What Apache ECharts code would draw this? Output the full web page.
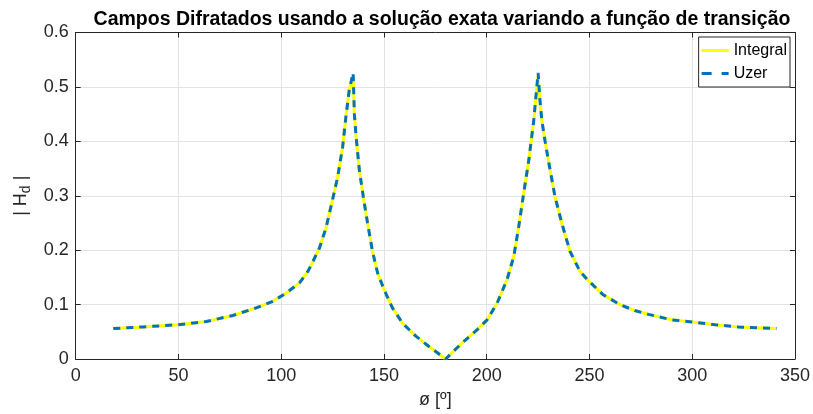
<!DOCTYPE html>
<html>
<head>
<meta charset="utf-8">
<script src="https://cdn.jsdelivr.net/npm/echarts@6/dist/echarts.min.js"></script>
<style>
html,body{margin:0;padding:0;background:#fff;}
#chart{width:813px;height:414px;}
</style>
</head>
<body>
<div id="chart"></div>
<script>
var titleText = 'Campos Difratados usando a solução exata variando a função de transição';
var xTicks = [0, 50, 100, 150, 200, 250, 300, 350];
var yTicks = [0, 0.1, 0.2, 0.3, 0.4, 0.5, 0.6];
var phi = [18.3, 32.8, 49.8, 63.6, 76.5, 87.8, 95.9, 102.4, 108.9, 113.0, 115.3, 118.6, 121.8, 125.0, 127.5, 129.9, 131.5, 133.1, 135.0, 135.6, 136.4, 138.0, 139.9, 142.0, 144.4, 146.9, 150.0, 154.1, 159.0, 165.5, 171.9, 180.0, 187.3, 195.4, 200.2, 205.1, 209.9, 213.2, 215.6, 218.0, 220.5, 222.9, 225.0, 225.8, 226.8, 228.4, 230.8, 233.2, 236.5, 240.5, 245.4, 249.7, 256.7, 264.8, 272.0, 278.7, 290.0, 300.1, 311.1, 322.4, 341.0];
var hdIntegral = [0.056, 0.059, 0.063, 0.069, 0.080, 0.094, 0.106, 0.121, 0.140, 0.161, 0.178, 0.204, 0.241, 0.293, 0.335, 0.390, 0.446, 0.494, 0.520, 0.450, 0.410, 0.348, 0.299, 0.250, 0.198, 0.158, 0.128, 0.094, 0.066, 0.042, 0.023, 0.000, 0.027, 0.054, 0.072, 0.103, 0.146, 0.189, 0.244, 0.305, 0.366, 0.439, 0.520, 0.480, 0.439, 0.400, 0.348, 0.299, 0.250, 0.198, 0.161, 0.143, 0.118, 0.100, 0.089, 0.082, 0.072, 0.068, 0.063, 0.059, 0.056];
var hdUzer = [0.056, 0.059, 0.063, 0.069, 0.080, 0.094, 0.106, 0.121, 0.140, 0.161, 0.178, 0.204, 0.241, 0.293, 0.335, 0.390, 0.446, 0.494, 0.526, 0.450, 0.410, 0.348, 0.299, 0.250, 0.198, 0.158, 0.128, 0.094, 0.066, 0.042, 0.023, 0.000, 0.027, 0.054, 0.072, 0.103, 0.146, 0.189, 0.244, 0.305, 0.366, 0.439, 0.526, 0.480, 0.439, 0.400, 0.348, 0.299, 0.250, 0.198, 0.161, 0.143, 0.118, 0.100, 0.089, 0.082, 0.072, 0.068, 0.063, 0.059, 0.056];

function pairs(xs, ys){ var out=[]; for(var i=0;i<xs.length;i++){ out.push([xs[i], ys[i]]); } return out; }

var FONT = '"Liberation Sans", Arial, Helvetica, sans-serif';
var AX = '#262626';
var GRID = '#e3e3e3';
var YELLOW = '#FFFF00';
var BLUE = '#0072BD';

var chart = echarts.init(document.getElementById('chart'), null, {renderer:'canvas'});
var baseX = {
  type:'value', min:xTicks[0], max:xTicks[xTicks.length-1], interval:50,
  axisLine:{show:true, onZero:false, lineStyle:{color:AX, width:1}},
  axisTick:{show:true, inside:true, length:5, lineStyle:{color:AX}},
  splitLine:{show:false}
};
var baseY = {
  type:'value', min:yTicks[0], max:yTicks[yTicks.length-1], interval:0.1,
  axisLine:{show:true, onZero:false, lineStyle:{color:AX, width:1}},
  axisTick:{show:true, inside:true, length:5, lineStyle:{color:AX}},
  splitLine:{show:false}
};
chart.setOption({
  animation:false,
  backgroundColor:'#ffffff',
  title:{
    text:titleText, left:437, top:5, textAlign:'center',
    textStyle:{fontFamily:FONT, fontSize:19.5, fontWeight:'bold', color:'#000'}
  },
  legend:{
    orient:'vertical', right:23, top:37,
    backgroundColor:'#fff', borderColor:AX, borderWidth:1, borderRadius:0,
    padding:[4,3,4,3], itemGap:4, itemWidth:27, itemHeight:3,
    symbolKeepAspect:false,
    textStyle:{fontFamily:FONT, fontSize:16, color:'#000', lineHeight:19},
    data:[
      {name:'Integral', icon:'path://M0,0h27v3h-27z'},
      {name:'Uzer', icon:'path://M0,0h10v3h-10z M20,0h7v3h-7z'}
    ]
  },
  grid:{left:75.7, right:16.3, top:32.5, bottom:54.5, containLabel:false},
  xAxis:[
    Object.assign({}, baseX, {
      position:'bottom',
      name:'ø [º]', nameLocation:'middle', nameGap:32,
      nameTextStyle:{fontFamily:FONT, fontSize:18, color:AX},
      axisLabel:{show:true, margin:8, fontFamily:FONT, fontSize:18, color:AX},
      splitLine:{show:true, lineStyle:{color:GRID, width:1}}
    }),
    Object.assign({}, baseX, {position:'top', axisLabel:{show:false}})
  ],
  yAxis:[
    Object.assign({}, baseY, {
      position:'left',
      name:'| H{s|d} |', nameLocation:'middle', nameGap:22, nameRotate:90,
      nameTextStyle:{fontFamily:FONT, fontSize:18, color:AX,
        rich:{s:{fontFamily:FONT, fontSize:14, color:AX, verticalAlign:'bottom', padding:[10,0,0,0]}}},
      axisLabel:{show:true, margin:7, fontFamily:FONT, fontSize:18, color:AX,
        formatter:function(v){ return v===0 ? '0' : v.toFixed(1); }},
      splitLine:{show:true, lineStyle:{color:GRID, width:1}}
    }),
    Object.assign({}, baseY, {position:'right', axisLabel:{show:false}})
  ],
  series:[
    {
      name:'Integral', type:'line', xAxisIndex:0, yAxisIndex:0,
      data:pairs(phi, hdIntegral), symbol:'none', smooth:false,
      lineStyle:{color:YELLOW, width:3}, itemStyle:{color:YELLOW}
    },
    {
      name:'Uzer', type:'line', xAxisIndex:0, yAxisIndex:0,
      data:pairs(phi, hdUzer), symbol:'none', smooth:false,
      lineStyle:{color:BLUE, width:3, type:[7,6]}, itemStyle:{color:BLUE}
    }
  ]
});
</script>
</body>
</html>
